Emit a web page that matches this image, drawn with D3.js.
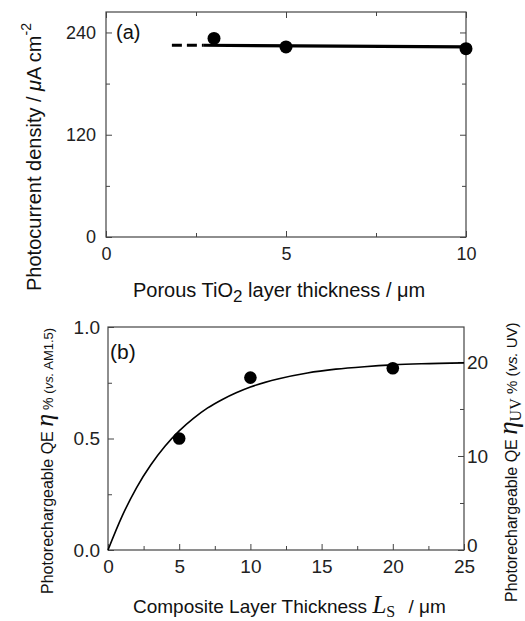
<!DOCTYPE html>
<html>
<head>
<meta charset="utf-8">
<script src="https://cdn.jsdelivr.net/npm/d3@7"></script>
<style>
body { margin: 0; background: #fff; }
svg { display: block; font-family: "Liberation Sans", Arial, sans-serif; }
.axis text { fill: #222; }
.axis line { stroke: #444; }
</style>
</head>
<body>
<div id="chart"></div>
<script>
// panel (a)
var thickA = [3, 5, 10];
var currentA = [233, 223, 221];
var fitDashX = [1.83, 2.7];
var fitSolidX = [2.7, 10];
var fitY = [225, 223];
var xTicksA = [0, 5, 10];
var yTicksA = [0, 120, 240];

// panel (b)
var thickB = [5, 10, 20];
var qeB = [0.50, 0.773, 0.815];
var curveX = [0, 1, 2, 3, 4, 5, 6, 7, 8, 9, 10, 12, 14, 16, 18, 20, 22, 25];
var curveY = [0, 0.153, 0.279, 0.381, 0.465, 0.534, 0.590, 0.637, 0.674, 0.705, 0.731, 0.768, 0.794, 0.811, 0.822, 0.830, 0.835, 0.839];
var xTicksB = [0, 5, 10, 15, 20, 25];
var yTicksB = [0, 0.5, 1.0];
var yTicksBR = [0, 10, 20];

var W = 525, H = 621;
var svg = d3.select("#chart").append("svg")
    .attr("width", W)
    .attr("height", H);
svg.append("rect").attr("width", W).attr("height", H).attr("fill", "#fff");

function frame(x, y) {
    svg.append("rect")
        .attr("x", x.range()[0])
        .attr("y", y.range()[1])
        .attr("width", x.range()[1] - x.range()[0])
        .attr("height", y.range()[0] - y.range()[1])
        .attr("fill", "none")
        .attr("stroke", "#444")
        .attr("stroke-width", 1.2);
}

function axis(gen, tx, ty, size, pad, fs) {
    var g = svg.append("g")
        .attr("class", "axis")
        .attr("transform", "translate(" + tx + "," + ty + ")")
        .call(gen.tickSizeInner(-size).tickSizeOuter(0).tickPadding(pad));
    g.select(".domain").remove();
    if (!fs) g.selectAll("text").remove();
    else g.selectAll("text").attr("font-size", fs);
    return g;
}

// ---------- (a)
var xa = d3.scaleLinear().domain([0, 10]).range([106, 466]);
var ya = d3.scaleLinear().domain([0, 264]).range([237, 12]);

axis(d3.axisBottom(xa).tickValues(xTicksA).tickFormat(d3.format("d")), 0, 237, 6, 10, 18);
axis(d3.axisBottom(xa).tickValues([2.5, 7.5]), 0, 237, 4, 0, 0);
axis(d3.axisTop(xa).tickValues(xTicksA), 0, 12, 6, 0, 0);
axis(d3.axisTop(xa).tickValues([2.5, 7.5]), 0, 12, 4, 0, 0);
axis(d3.axisLeft(ya).tickValues(yTicksA), 106, 0, 6, 10, 18);
axis(d3.axisLeft(ya).tickValues([60, 180]), 106, 0, 4, 0, 0);
axis(d3.axisRight(ya).tickValues(yTicksA), 466, 0, 6, 0, 0);
axis(d3.axisRight(ya).tickValues([60, 180]), 466, 0, 4, 0, 0);
frame(xa, ya);

var lineA = d3.line().x(function(d) { return xa(d[0]); }).y(function(d) { return ya(d[1]); });
svg.append("path")
    .attr("d", lineA([[fitDashX[0], fitY[0]], [fitDashX[1], fitY[0]]]))
    .attr("stroke", "#000").attr("stroke-width", 3.2)
    .attr("stroke-dasharray", "10,5").attr("fill", "none");
svg.append("path")
    .attr("d", lineA([[fitSolidX[0], fitY[0]], [fitSolidX[1], fitY[1]]]))
    .attr("stroke", "#000").attr("stroke-width", 3.2).attr("fill", "none");

svg.selectAll(".dotA")
    .data(thickA)
    .enter()
    .append("circle")
    .attr("cx", function(d) { return xa(d); })
    .attr("cy", function(d, i) { return ya(currentA[i]); })
    .attr("r", 6.5)
    .attr("fill", "#000");

svg.append("text").attr("x", 116).attr("y", 39)
    .attr("font-size", 20).attr("fill", "#111").text("(a)");

var ta = svg.append("text")
    .attr("transform", "translate(41,291) rotate(-90)")
    .attr("font-size", 20).attr("fill", "#111");
ta.append("tspan").text("Photocurrent density / ");
ta.append("tspan").attr("font-style", "italic").text("\u03bc");
ta.append("tspan").text("A cm");
ta.append("tspan").attr("font-size", 14).attr("dy", -10).text("-2");

var xa_t = svg.append("text").attr("x", 133).attr("y", 297)
    .attr("font-size", 20).attr("fill", "#111");
xa_t.append("tspan").text("Porous TiO");
xa_t.append("tspan").attr("font-size", 17).attr("dy", 5).text("2");
xa_t.append("tspan").attr("dy", -5).text(" layer thickness / \u03bcm");

// ---------- (b)
var xb = d3.scaleLinear().domain([0, 25]).range([108, 464]);
var yb = d3.scaleLinear().domain([0, 1]).range([550, 327]);
var ybR = d3.scaleLinear().domain([0, 23.72]).range([550, 327]);

axis(d3.axisBottom(xb).tickValues(xTicksB).tickFormat(d3.format("d")), 0, 550, 6, 10, 19);
axis(d3.axisBottom(xb).tickValues([2.5, 7.5, 12.5, 17.5, 22.5]), 0, 550, 4, 0, 0);
axis(d3.axisLeft(yb).tickValues(yTicksB).tickFormat(d3.format(".1f")), 108, 0, 6, 8, 19);
axis(d3.axisLeft(yb).tickValues([0.25, 0.75]), 108, 0, 4, 0, 0);
var rAx = axis(d3.axisRight(ybR).tickValues(yTicksBR).tickFormat(d3.format("d")), 464, 0, 6, 3, 19);
rAx.selectAll("text").filter(function(d) { return d === 0; }).attr("dy", "0.1em");
axis(d3.axisRight(ybR).tickValues([5, 15]), 464, 0, 4, 0, 0);
frame(xb, yb);

var lineB = d3.line()
    .x(function(d) { return xb(d); })
    .y(function(d, i) { return yb(curveY[i]); })
    .curve(d3.curveMonotoneX);
svg.append("path")
    .attr("d", lineB(curveX))
    .attr("stroke", "#000").attr("stroke-width", 1.6).attr("fill", "none");

svg.selectAll(".dotB")
    .data(thickB)
    .enter()
    .append("circle")
    .attr("cx", function(d) { return xb(d); })
    .attr("cy", function(d, i) { return yb(qeB[i]); })
    .attr("r", 6.3)
    .attr("fill", "#000");

svg.append("text").attr("x", 110).attr("y", 359)
    .attr("font-size", 21).attr("fill", "#111").text("(b)");

var tl = svg.append("text")
    .attr("transform", "translate(53,594) rotate(-90)")
    .attr("font-size", 16).attr("fill", "#111");
tl.append("tspan").text("Photorechargeable QE ");
tl.append("tspan").attr("font-family", "Liberation Serif").attr("font-style", "italic")
    .attr("font-size", 26).text("\u03b7");
tl.append("tspan").attr("font-size", 14).text(" % ");
tl.append("tspan").attr("font-size", 13).text("(");
tl.append("tspan").attr("font-size", 13).attr("font-style", "italic").text("vs.");
tl.append("tspan").attr("font-size", 13).text(" AM1.5)");

var tr = svg.append("text")
    .attr("transform", "translate(517,602) rotate(-90)")
    .attr("font-size", 16).attr("fill", "#111");
tr.append("tspan").text("Photorechargeable QE  ");
tr.append("tspan").attr("font-family", "Liberation Serif").attr("font-style", "italic")
    .attr("font-size", 27).text("\u03b7");
tr.append("tspan").attr("font-family", "Liberation Serif")
    .attr("font-size", 16).attr("dy", 4).text("UV");
tr.append("tspan").attr("font-size", 15).attr("dy", -4).text(" % ");
tr.append("tspan").attr("font-size", 15).text("(");
tr.append("tspan").attr("font-size", 15).attr("font-style", "italic").text("vs.");
tr.append("tspan").attr("font-size", 15).text(" UV)");

var xb_t = svg.append("text").attr("x", 133).attr("y", 613)
    .attr("font-size", 19).attr("fill", "#111");
xb_t.append("tspan").text("Composite Layer Thickness  ");
xb_t.append("tspan").attr("font-family", "Liberation Serif").attr("font-style", "italic")
    .attr("font-size", 25).text("L");
xb_t.append("tspan").attr("font-family", "Liberation Serif")
    .attr("font-size", 16).attr("dy", 4).text("S");
xb_t.append("tspan").attr("dy", -4).attr("dx", 8).text("  / \u03bcm");
</script>
</body>
</html>
